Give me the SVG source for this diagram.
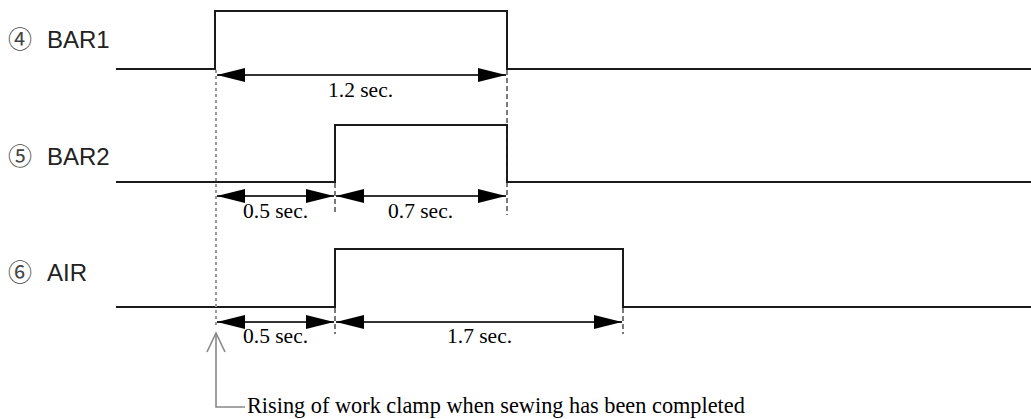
<svg xmlns="http://www.w3.org/2000/svg" width="1031" height="419" viewBox="0 0 1031 419">
<defs>
<marker id="ah" markerUnits="userSpaceOnUse" markerWidth="30" markerHeight="16" refX="28" refY="7" orient="auto-start-reverse">
<path d="M0,0 L28,7 L0,14 Z" fill="#000"/>
</marker>
<style>
.sig{fill:none;stroke:#1a1a1a;stroke-width:2}
.dim{fill:none;stroke:#333;stroke-width:2;marker-start:url(#ah);marker-end:url(#ah)}
.dash{fill:none;stroke:#222;stroke-width:1.2;stroke-dasharray:5 3}
.dot{fill:none;stroke:#999;stroke-width:2;stroke-dasharray:3 3}
.lead{fill:none;stroke:#888;stroke-width:1.6}
.lbl{font-family:"Liberation Sans",Arial,sans-serif;font-size:24px;fill:#222}
.num{font-family:"Noto Sans CJK JP","DejaVu Sans",sans-serif;font-size:24px;fill:#444}
.t{font-family:"Liberation Serif","Times New Roman",serif;font-size:21.5px;fill:#000}
</style>
</defs>
<g id="label-bar1"><text class="lbl" y="48"><tspan class="num" x="8">④</tspan><tspan x="47">BAR1</tspan></text></g>
<g id="label-bar2"><text class="lbl" y="165"><tspan class="num" x="8">⑤</tspan><tspan x="47">BAR2</tspan></text></g>
<g id="label-air"><text class="lbl" y="281"><tspan class="num" x="8">⑥</tspan><tspan x="47">AIR</tspan></text></g>
<g id="signal-bar1"><polyline class="sig" points="116,69 215,69 215,11 507,11 507,69 1031,69"/></g>
<g id="signal-bar2"><polyline class="sig" points="116,182 335,182 335,125 507,125 507,182 1031,182"/></g>
<g id="signal-air"><polyline class="sig" points="116,307 335,307 335,249 623,249 623,307 1031,307"/></g>
<g id="connectors">
<line class="dot" x1="216" y1="70" x2="216" y2="328"/>
<line class="dash" x1="507" y1="70" x2="507" y2="215"/>
<line class="dash" x1="335" y1="183" x2="335" y2="213"/>
<line class="dash" x1="335" y1="308" x2="335" y2="334"/>
<line class="dash" x1="623" y1="308" x2="623" y2="334"/>
<line class="dim" x1="217" y1="75" x2="506" y2="75"/>
<line class="dim" x1="217" y1="196" x2="334" y2="196"/>
<line class="dim" x1="336" y1="196" x2="506" y2="196"/>
<line class="dim" x1="217" y1="322" x2="334" y2="322"/>
<line class="dim" x1="336" y1="322" x2="622" y2="322"/>
<polyline class="lead" points="207,352 216,333 225,352"/>
<polyline class="lead" points="216,333 216,407 245,407"/>
</g>
<g id="dim-labels">
<text class="t" x="328" y="97">1.2 sec.</text>
<text class="t" x="243" y="218">0.5 sec.</text>
<text class="t" x="388" y="218">0.7 sec.</text>
<text class="t" x="243" y="343">0.5 sec.</text>
<text class="t" x="447" y="343">1.7 sec.</text>
<text class="t" x="247" y="413" style="font-size:22.3px">Rising of work clamp when sewing has been completed</text>
</g>
</svg>
